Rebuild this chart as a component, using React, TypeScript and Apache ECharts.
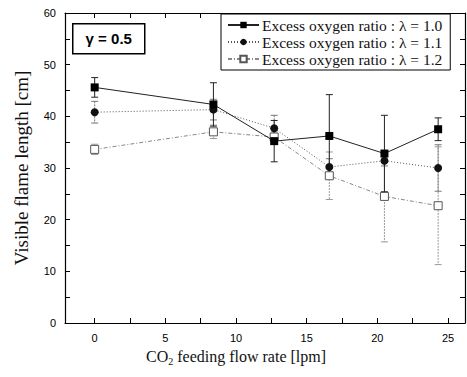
import React, { useEffect, useRef } from "react";
import * as echarts from "echarts";

const xValues = [0, 8.4, 12.7, 16.6, 20.5, 24.3];
const lambda10 = [45.6, 42.3, 35.2, 36.2, 32.8, 37.5];
const lambda10Err = [1.9, 4.2, 4.0, 8.0, 7.4, 2.2];
const lambda11 = [40.8, 41.3, 37.7, 30.2, 31.4, 30.0];
const lambda11Err = [2.1, 2.0, 2.5, 1.6, 1.0, 4.5];
const lambda12 = [33.6, 37.0, 36.0, 28.5, 24.5, 22.7];
const lambda12Err = [1.0, 1.3, 1.0, 4.6, 8.8, 11.4];

const seriesNames = [
  "Excess oxygen ratio : λ = 1.0",
  "Excess oxygen ratio : λ = 1.1",
  "Excess oxygen ratio : λ = 1.2",
];
const xTickValues = [0, 2.5, 5, 7.5, 10, 12.5, 15, 17.5, 20, 22.5, 25];
const xLabelValues = [0, 5, 10, 15, 20, 25];
const yTickValues = [0, 5, 10, 15, 20, 25, 30, 35, 40, 45, 50, 55, 60];

const SERIF = "'Liberation Serif', 'DejaVu Serif', serif";
const SANS = "'Liberation Sans', Arial, sans-serif";

function errorSeries(vals: number[], errs: number[], color: string, dash: any) {
  return {
    type: "custom",
    z: 1,
    silent: true,
    encode: { x: 0, y: 1 },
    data: xValues.map((x, i) => [x, vals[i], errs[i]]),
    renderItem: (params: any, api: any) => {
      const x = api.value(0);
      const y = api.value(1);
      const e = api.value(2);
      const top = api.coord([x, y + e]);
      const bot = api.coord([x, y - e]);
      const w = 3.5;
      const style = { stroke: color, lineWidth: 1, lineDash: dash };
      const capStyle = { stroke: color, lineWidth: 1 };
      return {
        type: "group",
        children: [
          { type: "line", shape: { x1: top[0], y1: top[1], x2: bot[0], y2: bot[1] }, style },
          { type: "line", shape: { x1: top[0] - w, y1: top[1], x2: top[0] + w, y2: top[1] }, style: capStyle },
          { type: "line", shape: { x1: bot[0] - w, y1: bot[1], x2: bot[0] + w, y2: bot[1] }, style: capStyle },
        ],
      };
    },
  };
}

export default function App() {
  const ref = useRef<HTMLDivElement>(null);
  useEffect(() => {
    if (!ref.current) return;
    const chart = echarts.init(ref.current, null, { renderer: "svg" });
    const axisCommon = {
      type: "value",
      axisLine: { show: true, onZero: false, lineStyle: { color: "#000", width: 1.2 } },
      splitLine: { show: false },
    };
    const tick = (vals: number[]) => ({
      show: true,
      inside: true,
      length: 5,
      customValues: vals,
      lineStyle: { color: "#000" },
    });
    chart.setOption({
      animation: false,
      backgroundColor: "#fff",
      grid: { left: 65, right: 2, top: 13, bottom: 54 },
      legend: {
        data: seriesNames,
        orient: "vertical",
        left: 221,
        top: 14,
        itemGap: 1,
        itemWidth: 31,
        itemHeight: 8,
        padding: [3, 8, 3, 6],
        borderColor: "#000",
        borderWidth: 1,
        backgroundColor: "#fff",
        textStyle: { fontFamily: SERIF, fontSize: 15.5, color: "#111", padding: [0, 0, 0, -2] },
      },
      graphic: [
        {
          type: "group",
          left: 72,
          top: 23,
          children: [
            { type: "rect", shape: { x: 0, y: 0, width: 72, height: 30 }, style: { fill: "#fff", stroke: "#000", lineWidth: 1.5 } },
            {
              type: "text",
              x: 36,
              y: 15,
              style: { text: "γ = 0.5", font: `bold 15px ${SANS}`, fill: "#000", align: "center", verticalAlign: "middle" },
            },
          ],
        },
        {
          type: "text",
          x: 236,
          y: 356,
          style: {
            text: "{a|CO}{s|2}{a| feeding flow rate [lpm]}",
            align: "center",
            verticalAlign: "middle",
            rich: {
              a: { fontFamily: SERIF, fontSize: 16, fill: "#111" },
              s: { fontFamily: SERIF, fontSize: 10, fill: "#111", padding: [10, 0, 0, 0] },
            },
          },
        },
      ],
      xAxis: [
        {
          ...axisCommon,
          position: "bottom",
          min: -2.1,
          max: 26.2,
          axisTick: tick(xTickValues),
          axisLabel: { show: true, customValues: xLabelValues, fontFamily: SANS, fontSize: 11, color: "#000", margin: 9 },
        },
        {
          ...axisCommon,
          position: "top",
          min: -2.1,
          max: 26.2,
          axisTick: tick(xTickValues),
          axisLabel: { show: false },
        },
      ],
      yAxis: [
        {
          ...axisCommon,
          position: "left",
          min: 0,
          max: 60,
          interval: 10,
          axisTick: tick(yTickValues),
          axisLabel: { show: true, fontFamily: SANS, fontSize: 11, color: "#000", margin: 9 },
          name: "Visible flame length [cm]",
          nameLocation: "middle",
          nameRotate: 90,
          nameGap: 34,
          nameTextStyle: { fontFamily: SERIF, fontSize: 19, color: "#111" },
        },
        {
          ...axisCommon,
          position: "right",
          min: 0,
          max: 60,
          interval: 10,
          axisTick: tick(yTickValues),
          axisLabel: { show: false },
        },
      ],
      series: [
        errorSeries(lambda12, lambda12Err, "#999", [2, 1]),
        errorSeries(lambda11, lambda11Err, "#777", [2, 1]),
        errorSeries(lambda10, lambda10Err, "#222", null),
        {
          name: seriesNames[2],
          type: "line",
          z: 3,
          data: xValues.map((x, i) => [x, lambda12[i]]),
          symbol: "rect",
          symbolSize: 8,
          lineStyle: { color: "#888", width: 1, type: [4, 2, 1, 2] },
          itemStyle: { color: "#fff", borderColor: "#555", borderWidth: 1 },
        },
        {
          name: seriesNames[1],
          type: "line",
          z: 4,
          data: xValues.map((x, i) => [x, lambda11[i]]),
          symbol: "circle",
          symbolSize: 8,
          lineStyle: { color: "#555", width: 1, type: [1, 2] },
          itemStyle: { color: "#111", borderColor: "#111", borderWidth: 0 },
        },
        {
          name: seriesNames[0],
          type: "line",
          z: 5,
          data: xValues.map((x, i) => [x, lambda10[i]]),
          symbol: "rect",
          symbolSize: 8,
          lineStyle: { color: "#222", width: 1 },
          itemStyle: { color: "#000", borderColor: "#000", borderWidth: 0 },
        },
      ],
    });
    return () => chart.dispose();
  }, []);
  return (
    <div
      ref={ref}
      style={{ position: "fixed", left: 0, top: 0, width: 467, height: 377, background: "#fff" }}
    />
  );
}
